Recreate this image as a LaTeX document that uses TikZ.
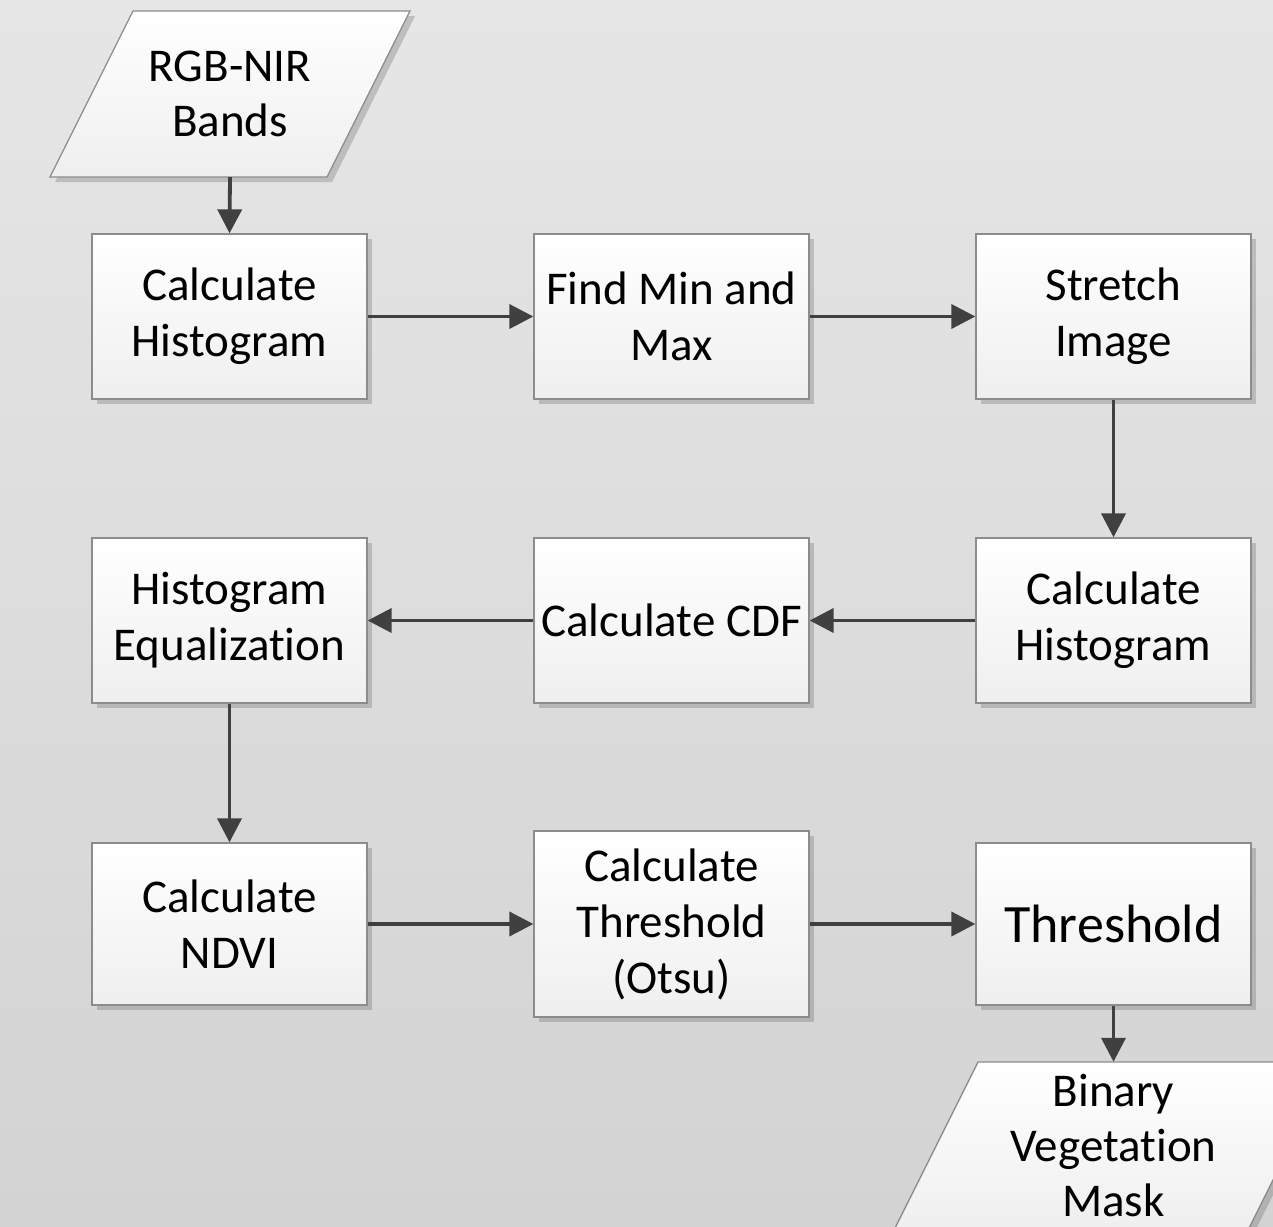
\documentclass[tikz,border=0pt]{standalone}
\usepackage{fontspec}
\setmainfont{Carlito}[Ligatures={NoCommon}]
\usetikzlibrary{arrows.meta,shadows}
\definecolor{bgtop}{HTML}{E6E6E6}
\definecolor{bgbot}{HTML}{D3D3D3}
\definecolor{edge}{HTML}{8C8C8C}
\definecolor{arrowc}{HTML}{404040}
\definecolor{boxbot}{HTML}{EFEFEF}
\tikzset{
  procbox/.style={rectangle, draw=edge, line width=1.3pt, top color=white, bottom color=boxbot,
    drop shadow={shadow xshift=5pt, shadow yshift=-5pt, opacity=0.25, fill=black!70},
    minimum width=275pt, minimum height=165pt, align=center, inner sep=0pt,
    font=\fontsize{47}{56}\selectfont},
  paratext/.style={rectangle, draw=none, minimum width=200pt, minimum height=166pt, align=center,
    inner sep=0pt, font=\fontsize{47}{55}\selectfont},
  parashape/.style={draw=edge, line width=1.3pt, top color=white, bottom color=boxbot,
    drop shadow={shadow xshift=5pt, shadow yshift=-5pt, opacity=0.25, fill=black!70}},
  flow/.style={draw=arrowc, line width=3.8pt, -{Triangle[length=24pt,width=24pt]}}
}
\begin{document}
\begin{tikzpicture}[x=1pt,y=-1pt]
\useasboundingbox (0,0) rectangle (1273,1226);
\shade[top color=bgtop, bottom color=bgbot] (0,0) rectangle (1273,1226);

% input parallelogram
\path[parashape] (133,11) -- (410,11) -- (327,177) -- (50,177) -- cycle;
\node[paratext] (in) at (230,94) {RGB-NIR\\Bands};

% row 1
\node[procbox] (h1) at (229.5,316.5) {Calculate\\Histogram};
\node[procbox] (mm) at (671.5,316.5) {Find Min and\\Max};
\node[procbox] (st) at (1113.5,316.5) {Stretch\\Image};
% row 2
\node[procbox] (he) at (229.5,620.5) {Histogram\\Equalization};
\node[procbox] (cdf) at (671.5,620.5) {Calculate CDF};
\node[procbox] (h2) at (1113.5,620.5) {Calculate\\Histogram};
% row 3
\node[procbox, minimum height=162pt] (nd) at (229.5,924) {Calculate\\NDVI};
\node[procbox, minimum height=186pt] (ot) at (671.5,924) {Calculate\\Threshold\\(Otsu)};
\node[procbox, minimum height=162pt, font=\fontsize{54}{64}\selectfont] (th) at (1113.5,924) {Threshold};

% output parallelogram
\path[parashape] (978,1062) -- (1332,1062) -- (1249,1228) -- (895,1228) -- cycle;
\node[paratext] (out) at (1113.5,1145) {Binary\\Vegetation\\Mask};

% connectors
\draw[flow] (in.south) -- (h1.north);
\draw[flow] (h1.east) -- (mm.west);
\draw[flow] (mm.east) -- (st.west);
\draw[flow] (st.south) -- (h2.north);
\draw[flow] (h2.west) -- (cdf.east);
\draw[flow] (cdf.west) -- (he.east);
\draw[flow] (he.south) -- (nd.north);
\draw[flow] (nd.east) -- (ot.west);
\draw[flow] (ot.east) -- (th.west);
\draw[flow] (th.south) -- (out.north);
\end{tikzpicture}
\end{document}
